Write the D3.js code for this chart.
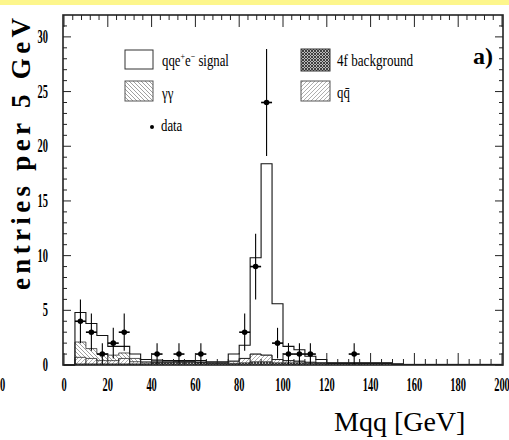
<!DOCTYPE html>
<html><head><meta charset="utf-8">
<script src="https://cdn.jsdelivr.net/npm/d3@7"></script>
<style>body{margin:0;background:#fff}svg{display:block}</style>
</head><body>
<svg id="c" width="509" height="440"></svg>
<script>
// ---------- data ----------
const binEdges = [0,5,10,15,20,25,30,35,40,45,50,55,60,65,70,75,80,85,90,95,100,105,110,115,120,125,130,135,140,145,150,155,160,165,170,175,180,185,190,195,200];
const fourF  = [0,0.1,0.1,0.1,0.1,0.1,0.1,0.1,0.2,0.2,0.25,0.25,0.2,0.15,0.15,0.15,0.2,0.3,0.3,0.2,0.2,0.2,0.15,0.15,0.15,0.15,0.15,0.15,0.15,0.15,0.05,0.05,0.05,0.05,0.05,0.05,0.05,0.05,0.05,0.05];
const qqbar  = [0,0.6,0.5,0.3,0.3,0.5,0.2,0.1,0.05,0.05,0.05,0.05,0.05,0.05,0.05,0.2,0.4,0.7,0.6,0.3,0.2,0.15,0.1,0.05,0,0,0,0,0,0,0,0,0,0,0,0,0,0,0,0];
const gamgam = [0,1.4,0.9,0.6,0.5,0.5,0.3,0.1,0.05,0.05,0,0,0,0,0,0,0,0,0,0,0,0,0,0,0,0,0,0,0,0,0,0,0,0,0,0,0,0,0,0];
const signal = [0,2.7,2.3,1.7,0.8,0.6,0.4,0.2,0.15,0.1,0.1,0.1,0.15,0.1,0.1,0.65,1.2,8.8,17.5,5.1,1.3,1.05,0.55,0.3,0.05,0.05,0.05,0.05,0.05,0.05,0.05,0,0,0,0,0,0,0,0,0];
const dataX   = [7.5,12.5,17.5,22.5,27.5,42.5,52.5,62.5,82.5,87.5,92.5,97.5,102.5,107.5,112.5,132.5];
const dataY   = [4,3,1,2,3,1,1,1,3,9,24,2,1,1,1,1];
const dataErr = [2.0,1.7,1.0,1.4,1.7,1.0,1.0,1.0,1.7,3.0,4.9,1.4,1.0,1.0,1.0,1.0];
const xTickLabels = [0,20,40,60,80,100,120,140,160,180,200];
const yTickLabels = [0,5,10,15,20,25,30];

// ---------- layout ----------
const L = 63, R = 503, T = 15, B = 365;
const svg = d3.select("#c");
const x = d3.scaleLinear().domain([0,200]).range([64,502]);
const y = d3.scaleLinear().domain([0,32]).range([B,T]);

svg.append("rect").attr("x",0).attr("y",0).attr("width",509).attr("height",5).attr("fill","#fdf68c");

// patterns
const defs = svg.append("defs");
const p4 = defs.append("pattern").attr("id","p4f").attr("width",3).attr("height",3).attr("patternUnits","userSpaceOnUse");
p4.append("rect").attr("width",3).attr("height",3).attr("fill","#bbb");
p4.append("path").attr("d","M0,0L3,3M3,0L0,3").attr("stroke","#333").attr("stroke-width",0.9);
const pg = defs.append("pattern").attr("id","pgg").attr("width",4).attr("height",4).attr("patternUnits","userSpaceOnUse");
pg.append("rect").attr("width",4).attr("height",4).attr("fill","#fff");
pg.append("path").attr("d","M0,0L4,4M-1,3L1,5M3,-1L5,1").attr("stroke","#888").attr("stroke-width",0.8);
const pq = defs.append("pattern").attr("id","pqq").attr("width",4).attr("height",4).attr("patternUnits","userSpaceOnUse");
pq.append("rect").attr("width",4).attr("height",4).attr("fill","#fff");
pq.append("path").attr("d","M0,4L4,0M-1,1L1,-1M3,5L5,3").attr("stroke","#999").attr("stroke-width",0.8);

// stacked histogram
const keys = ["fourF","qqbar","gamgam","signal"];
const fills = {fourF:"url(#p4f)", qqbar:"url(#pqq)", gamgam:"url(#pgg)", signal:"#fff"};
const rows = fourF.map((v,i)=>({fourF:v, qqbar:qqbar[i], gamgam:gamgam[i], signal:signal[i]}));
const stack = d3.stack().keys(keys)(rows);
const area = d3.area().curve(d3.curveStepAfter).x(d=>x(d.x)).y0(d=>y(d.y0)).y1(d=>y(d.y1));
const line = d3.line().curve(d3.curveStepAfter).x(d=>x(d.x)).y(d=>y(d.y1));
const hist = svg.append("g");
stack.forEach(layer=>{
  const pts = layer.map((d,i)=>({x:binEdges[i], y0:d[0], y1:d[1]}));
  const last = pts[pts.length-1];
  pts.push({x:binEdges[binEdges.length-1], y0:last.y0, y1:last.y1});
  hist.append("path").attr("d",area(pts)).attr("fill",fills[layer.key]).attr("stroke","none");
});
stack.forEach(layer=>{
  const pts = layer.map((d,i)=>({x:binEdges[i], y1:d[1]}));
  pts.unshift({x:binEdges[0], y1:0});
  pts.push({x:binEdges[binEdges.length-1], y1:pts[pts.length-1].y1});
  hist.append("path").attr("d",line(pts)).attr("fill","none").attr("stroke","#111")
    .attr("stroke-width", layer.key==="signal"?1.1:0.7);
});

// data points
const dg = svg.append("g").attr("stroke","#000").attr("fill","#000");
dataX.forEach((cx,i)=>{
  dg.append("line").attr("x1",x(cx)).attr("x2",x(cx)).attr("y1",y(Math.max(0,dataY[i]-dataErr[i]))).attr("y2",y(dataY[i]+dataErr[i])).attr("stroke-width",1.1);
  dg.append("line").attr("x1",x(cx-2.5)).attr("x2",x(cx+2.5)).attr("y1",y(dataY[i])).attr("y2",y(dataY[i])).attr("stroke-width",1.6);
  dg.append("circle").attr("cx",x(cx)).attr("cy",y(dataY[i])).attr("r",2.8).attr("stroke","none");
});

// frame & ticks
const ax = svg.append("g").attr("stroke","#222").attr("fill","none");
ax.append("rect").attr("x",L).attr("y",T).attr("width",R-L).attr("height",B-T).attr("stroke-width",1.6);
d3.range(0,201,5).forEach(v=>{
  const len = v%20===0?12:6;
  ax.append("line").attr("x1",x(v)).attr("x2",x(v)).attr("y1",B).attr("y2",B-len).attr("stroke-width",1);
});
d3.range(0,201,4).forEach(v=>{
  const len = v%20===0?12:5;
  ax.append("line").attr("x1",x(v)).attr("x2",x(v)).attr("y1",T).attr("y2",T+len).attr("stroke-width",1);
});
d3.range(0,32,1).forEach(v=>{
  const len = v%5===0?8:4;
  ax.append("line").attr("x1",L).attr("x2",L+len).attr("y1",y(v)).attr("y2",y(v)).attr("stroke-width",1);
  ax.append("line").attr("x1",R).attr("x2",R-len).attr("y1",y(v)).attr("y2",y(v)).attr("stroke-width",1);
});

// text helper
function label(px, py, str, size, sx, anchor, weight){
  const g = svg.append("g").attr("transform",`translate(${px},${py}) scale(${sx},1)`);
  return g.append("text").attr("x",0).attr("y",0).attr("text-anchor",anchor||"start")
    .attr("font-family","'Liberation Serif','Times New Roman',serif").attr("font-size",size)
    .attr("font-weight",weight||"normal").attr("fill","#000").text(str);
}
xTickLabels.forEach(v=>label(x(v), 391, String(v), 19, 0.55, "middle", "bold"));
yTickLabels.forEach(v=>label(48, y(v)+6, String(v), 19, 0.55, "end", "bold"));
label(0, 391, "0", 19, 0.55, "start", "bold");

// axis titles
svg.append("text").attr("transform","translate(30,154) rotate(-90)").attr("text-anchor","middle")
  .attr("font-family","'Liberation Serif',serif").attr("font-weight","bold").attr("font-size",27)
  .attr("textLength",272).attr("lengthAdjust","spacing").attr("fill","#000").text("entries per 5 GeV");
svg.append("text").attr("x",334).attr("y",431).attr("font-family","'Liberation Serif',serif")
  .attr("font-size",28).attr("fill","#000").text("Mqq [GeV]");
svg.append("text").attr("x",473).attr("y",64).attr("font-family","'Liberation Serif',serif")
  .attr("font-size",24).attr("font-weight","bold").attr("fill","#000").text("a)");

// legend
const lg = svg.append("g");
lg.append("rect").attr("x",125).attr("y",50).attr("width",28).attr("height",19).attr("fill","#fff").attr("stroke","#333").attr("stroke-width",1);
lg.append("rect").attr("x",125).attr("y",81).attr("width",28).attr("height",20).attr("fill","url(#pgg)").attr("stroke","#555").attr("stroke-width",1);
lg.append("rect").attr("x",301).attr("y",49).attr("width",29).attr("height",22).attr("fill","url(#p4f)").attr("stroke","#333").attr("stroke-width",1);
lg.append("rect").attr("x",301).attr("y",81).attr("width",29).attr("height",20).attr("fill","url(#pqq)").attr("stroke","#555").attr("stroke-width",1);
lg.append("circle").attr("cx",152).attr("cy",127).attr("r",2).attr("fill","#000");
const sig = label(162, 66, "qqe", 16, 0.8, "start");
sig.append("tspan").attr("dy",-6).attr("font-size",10).text("+");
sig.append("tspan").attr("dy",6).text("e");
sig.append("tspan").attr("dy",-6).attr("font-size",10).text("\u2212");
sig.append("tspan").attr("dy",6).text(" signal");
label(162, 99, "\u03b3\u03b3", 16, 0.8, "start");
label(161, 131, "data", 16, 0.8, "start");
label(337, 66, "4f background", 16, 0.82, "start");
label(337, 98, "qq\u0304", 16, 0.8, "start");
</script>
</body></html>
